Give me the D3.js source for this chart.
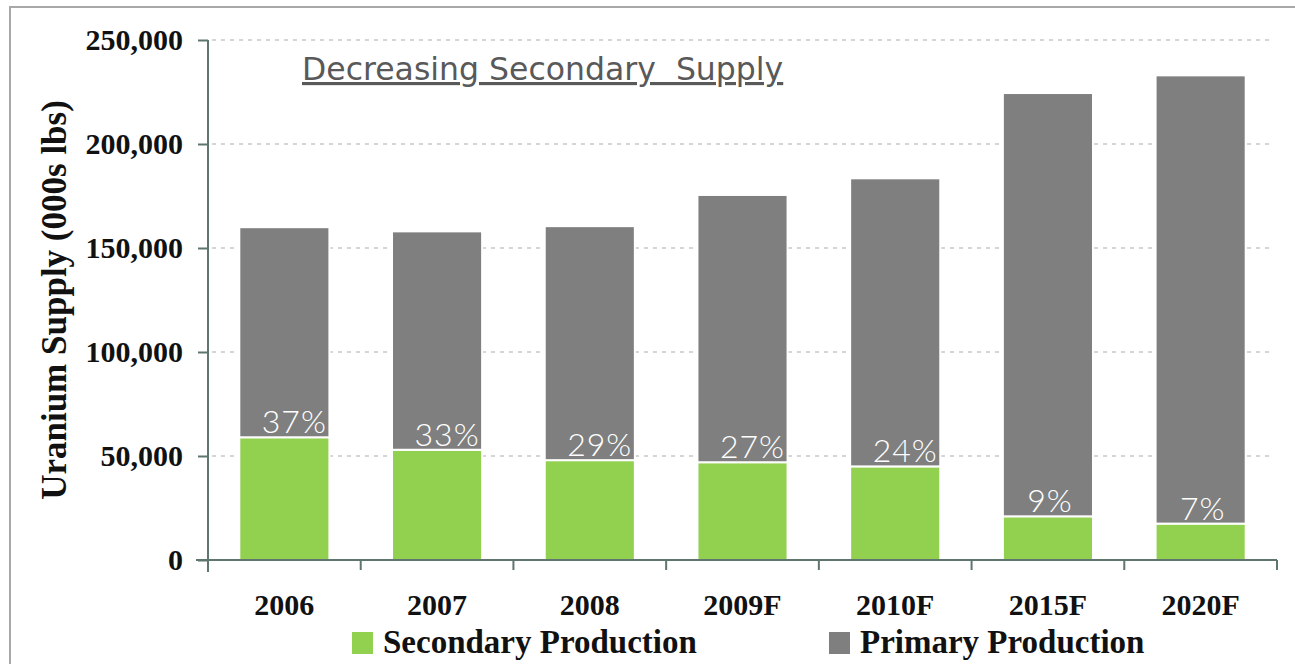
<!DOCTYPE html>
<html><head><meta charset="utf-8">
<script src="https://cdn.jsdelivr.net/npm/d3@7"></script>
<style>
html,body{margin:0;padding:0;background:#fff;}
svg{display:block;}
</style></head>
<body>
<svg id="chart" width="1295" height="664"></svg>
<script>
const categories = ["2006","2007","2008","2009F","2010F","2015F","2020F"];
const secondary = [59000, 53000, 48000, 47000, 45000, 21000, 17500];
const primary = [101000, 105000, 112500, 128500, 138500, 203500, 215500];
const shareLabels = ["37%","33%","29%","27%","24%","9%","7%"];
const yTicks = [0, 50000, 100000, 150000, 200000, 250000];
const seriesNames = ["Secondary Production", "Primary Production"];
const chartTitle = "Decreasing Secondary  Supply";
const yTitle = "Uranium Supply (000s lbs)";

(function () {
const colors = {"Secondary Production": "#92d050", "Primary Production": "#7f7f7f"};
const axisColor = "#5f7570";
const serif = "'Liberation Serif', 'Times New Roman', serif";

const svg = d3.select("#chart");
const pl = 208, pr = 1277, pt = 40, pb = 560;

// outer frame
svg.append("rect").attr("x", 10).attr("y", 7).attr("width", 1300).attr("height", 700)
  .attr("fill", "none").attr("stroke", "#a8a8a8").attr("stroke-width", 2);

const x = d3.scaleBand().domain(categories).range([pl, pr]).paddingInner(0.41).paddingOuter(0.205);
const y = d3.scaleLinear().domain([0, 250000]).range([pb, pt]);

// grid
svg.append("g").selectAll("line").data(yTicks.filter(d => d > 0)).join("line")
  .attr("x1", pl + 4).attr("x2", pr - 6)
  .attr("y1", d => y(d)).attr("y2", d => y(d))
  .attr("stroke", "#c8c8c8").attr("stroke-width", 1.5).attr("stroke-dasharray", "4,5");

// stacked bars
const rows = categories.map((c, i) => ({cat: c, "Secondary Production": secondary[i], "Primary Production": primary[i]}));
const stacked = d3.stack().keys(seriesNames)(rows);
svg.append("g").selectAll("g").data(stacked).join("g")
  .attr("fill", d => colors[d.key])
  .selectAll("rect").data(d => d).join("rect")
  .attr("x", d => x(d.data.cat))
  .attr("width", x.bandwidth())
  .attr("y", d => y(d[1]))
  .attr("height", d => y(d[0]) - y(d[1]))
  .attr("stroke", "#fff").attr("stroke-width", 2);

// share labels
svg.append("g").selectAll("text").data(categories).join("text")
  .attr("x", (c, i) => x(c) + x.bandwidth() / 2 + (shareLabels[i].length > 2 ? 10 : 2))
  .attr("y", (c, i) => y(secondary[i]) - 4)
  .attr("text-anchor", "middle")
  .attr("fill", "#fff")
  .style("font-family", "Lato, 'Open Sans', sans-serif")
  .style("font-weight", 300)
  .style("font-size", "32px")
  .style("letter-spacing", "1px")
  .text((c, i) => shareLabels[i]);

// y axis
const yAxis = svg.append("g").attr("transform", `translate(${pl},0)`)
  .call(d3.axisLeft(y).tickValues(yTicks).tickFormat(d3.format(",")).tickSize(10).tickPadding(15));
yAxis.select(".domain").attr("stroke", axisColor).attr("stroke-width", 2)
  .attr("d", `M0,${pt}V${pb + 12}`);
yAxis.selectAll(".tick line").attr("stroke", axisColor).attr("stroke-width", 2);
yAxis.selectAll(".tick text").attr("fill", "#111")
  .style("font-family", serif).style("font-weight", "bold").style("font-size", "30px");

// x axis
const step = x.step();
const boundaries = categories.map(c => x(c) + x.bandwidth() + (step - x.bandwidth()) / 2);
const xg = svg.append("g");
xg.append("line").attr("x1", pl - 12).attr("x2", pr).attr("y1", pb).attr("y2", pb)
  .attr("stroke", axisColor).attr("stroke-width", 2);
xg.selectAll("line.tk").data(boundaries).join("line").attr("class", "tk")
  .attr("x1", d => d).attr("x2", d => d).attr("y1", pb).attr("y2", pb + 10)
  .attr("stroke", axisColor).attr("stroke-width", 2);
xg.selectAll("text").data(categories).join("text")
  .attr("x", c => x(c) + x.bandwidth() / 2).attr("y", 615)
  .attr("text-anchor", "middle").attr("fill", "#111")
  .style("font-family", serif).style("font-weight", "bold").style("font-size", "30px")
  .text(c => c);

// y title
svg.append("text").attr("transform", "translate(66,300) rotate(-90)")
  .attr("text-anchor", "middle").attr("fill", "#111")
  .style("font-family", serif).style("font-weight", "bold").style("font-size", "35px")
  .text(yTitle);

// chart title
svg.append("text").attr("x", 302).attr("y", 80)
  .attr("fill", "#595959")
  .style("font-family", "'DejaVu Sans', Verdana, sans-serif").style("font-size", "31.5px")
  .style("text-decoration", "underline").style("white-space", "pre")
  .text(chartTitle);

// legend
const legendX = [352, 829];
const lg = svg.append("g").selectAll("g").data(seriesNames).join("g")
  .attr("transform", (d, i) => `translate(${legendX[i]},632)`);
lg.append("rect").attr("width", 21).attr("height", 22).attr("fill", d => colors[d]);
lg.append("text").attr("x", 31).attr("y", 21).attr("fill", "#111")
  .style("font-family", serif).style("font-weight", "bold").style("font-size", "33px")
  .text(d => d);
})();
</script>
</body></html>
